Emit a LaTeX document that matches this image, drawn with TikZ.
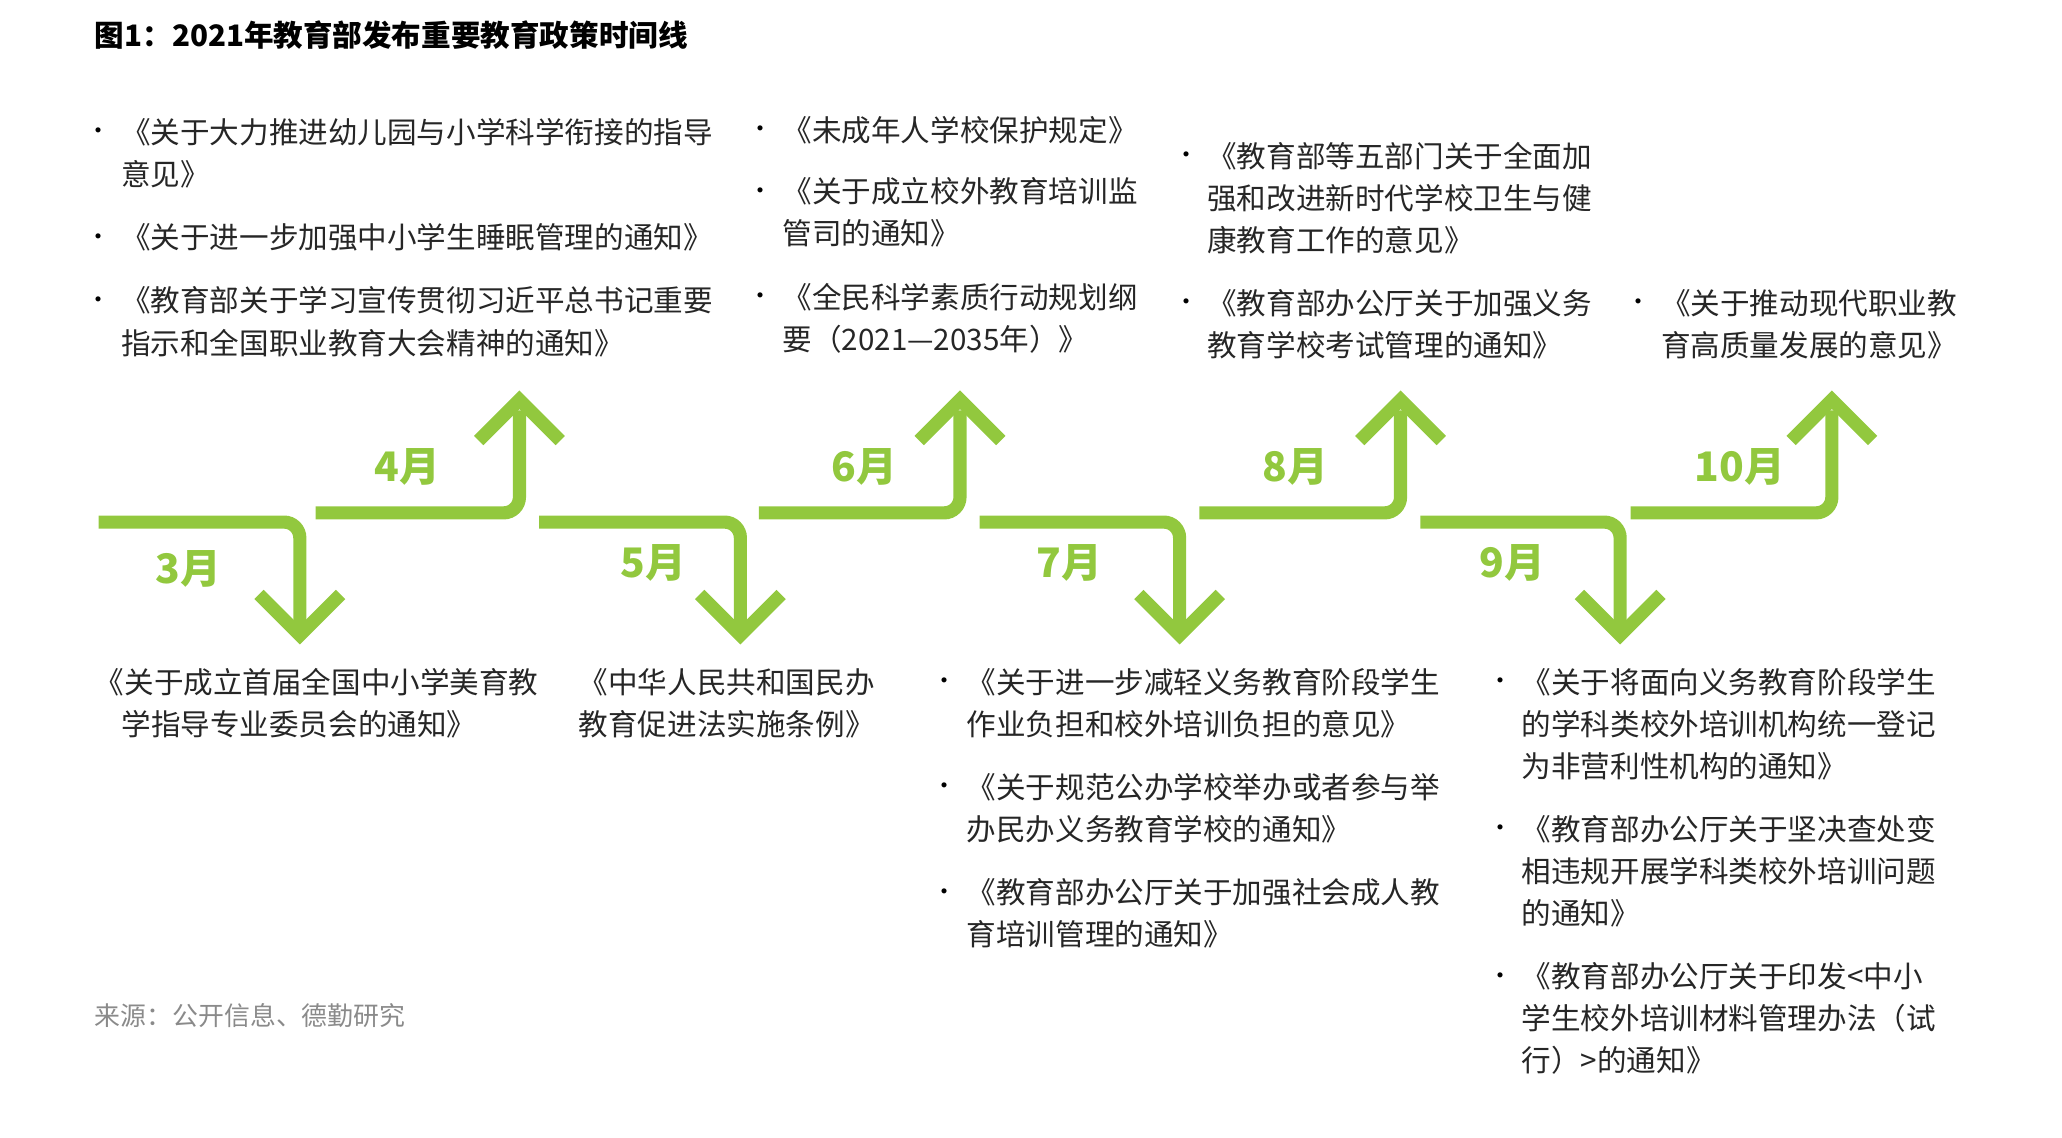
\documentclass[tikz,border=0pt]{standalone}
\usepackage{fontspec}
\setmainfont{Noto Sans CJK SC}
\definecolor{dgreen}{HTML}{92C83E}
\definecolor{srcgray}{HTML}{8A8A8A}
\tikzset{
 arr/.style={draw=dgreen,line width=0.5cm,rounded corners=0.6cm},
 chev/.style={draw=dgreen,line width=0.5cm,line join=miter},
 mon/.style={text=dgreen,font=\fontsize{44pt}{50pt}\selectfont\bfseries,inner sep=0},
 txt/.style={anchor=north west,align=left,inner sep=0,font=\fontsize{32pt}{45.5pt}\selectfont,text=black!85},
 bul/.style={anchor=center,inner sep=0,font=\fontsize{26pt}{30pt}\selectfont}
}
\newcommand{\itm}[4]{\node[bul] at (#1,#3) {•}; \node[txt] at (#2,#3-12) {#4};}
\begin{document}
\begin{tikzpicture}[x=0.05cm,y=-0.05cm]
\useasboundingbox (0,0) rectangle (1568,865);
\node[anchor=base west,inner sep=0,font=\fontsize{32pt}{36pt}\selectfont\bfseries] (title) at (72,35) {图1：2021年教育部发布重要教育政策时间线};
% arrows
\draw[arr] (75,397) -- (228,397) -- (228,478);
\draw[chev] (197,452) -- (228,483) -- (259,452);
\draw[arr] (240,390) -- (395,390) -- (395,312);
\draw[chev] (364,335) -- (395,304) -- (426,335);
\draw[arr] (410,397) -- (563,397) -- (563,478);
\draw[chev] (532,452) -- (563,483) -- (594,452);
\draw[arr] (577,390) -- (730,390) -- (730,312);
\draw[chev] (699,335) -- (730,304) -- (761,335);
\draw[arr] (745,397) -- (897,397) -- (897,478);
\draw[chev] (866,452) -- (897,483) -- (928,452);
\draw[arr] (912,390) -- (1065,390) -- (1065,312);
\draw[chev] (1034,335) -- (1065,304) -- (1096,335);
\draw[arr] (1080,397) -- (1232,397) -- (1232,478);
\draw[chev] (1201,452) -- (1232,483) -- (1263,452);
\draw[arr] (1240,390) -- (1393,390) -- (1393,312);
\draw[chev] (1362,335) -- (1393,304) -- (1424,335);
% months
\node[mon] (m3) at (143,433) {3月};
\node[mon] (m4) at (310,355) {4月};
\node[mon] (m5) at (497,428) {5月};
\node[mon] (m6) at (657,355) {6月};
\node[mon] (m7) at (813,428) {7月};
\node[mon] (m8) at (985,355) {8月};
\node[mon] (m9) at (1150,428) {9月};
\node[mon] (m10) at (1323,355) {10月};
% top texts
\itm{75}{92}{102}{《关于大力推进幼儿园与小学科学衔接的指导\\意见》}
\itm{75}{92}{182}{《关于进一步加强中小学生睡眠管理的通知》}
\itm{75}{92}{230}{《教育部关于学习宣传贯彻习近平总书记重要\\指示和全国职业教育大会精神的通知》}
\itm{578}{595}{100}{《未成年人学校保护规定》}
\itm{578}{595}{147}{《关于成立校外教育培训监\\管司的通知》}
\itm{578}{595}{227}{《全民科学素质行动规划纲\\要（2021—2035年）》}
\itm{902}{918}{120}{《教育部等五部门关于全面加\\强和改进新时代学校卫生与健\\康教育工作的意见》}
\itm{902}{918}{232}{《教育部办公厅关于加强义务\\教育学校考试管理的通知》}
\itm{1246}{1263}{232}{《关于推动现代职业教\\育高质量发展的意见》}
% bottom texts
\node[txt] (b1) at (72,508) {《关于成立首届全国中小学美育教\\\hspace*{0.9em}学指导专业委员会的通知》};
\node[txt] (b2) at (440,508) {《中华人民共和国民办\\教育促进法实施条例》};
\itm{718}{735}{520}{《关于进一步减轻义务教育阶段学生\\作业负担和校外培训负担的意见》}
\itm{718}{735}{600}{《关于规范公办学校举办或者参与举\\办民办义务教育学校的通知》}
\itm{718}{735}{680}{《教育部办公厅关于加强社会成人教\\育培训管理的通知》}
\itm{1141}{1157}{520}{《关于将面向义务教育阶段学生\\的学科类校外培训机构统一登记\\为非营利性机构的通知》}
\itm{1141}{1157}{632}{《教育部办公厅关于坚决查处变\\相违规开展学科类校外培训问题\\的通知》}
\itm{1141}{1157}{744}{《教育部办公厅关于印发<中小\\学生校外培训材料管理办法（试\\行）>的通知》}
\node[anchor=base west,inner sep=0,text=srcgray,font=\fontsize{28pt}{32pt}\selectfont] (src) at (72,780) {来源：公开信息、德勤研究};
\end{tikzpicture}
\end{document}
